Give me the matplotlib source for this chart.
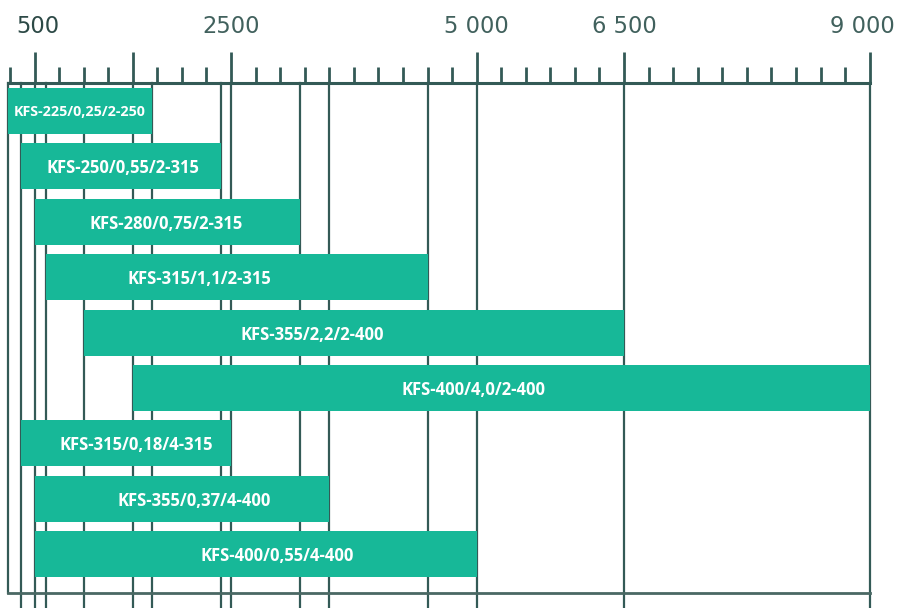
import matplotlib
matplotlib.use('Agg')
import matplotlib.pyplot as plt
import matplotlib.transforms as mtransforms
from matplotlib.ticker import FixedLocator

# ---- data ----
models = ["KFS-225/0,25/2-250", "KFS-250/0,55/2-315", "KFS-280/0,75/2-315",
          "KFS-315/1,1/2-315", "KFS-355/2,2/2-400", "KFS-400/4,0/2-400",
          "KFS-315/0,18/4-315", "KFS-355/0,37/4-400", "KFS-400/0,55/4-400"]
flow_min = [225, 360, 500, 620, 1000, 1500, 360, 500, 500]
flow_max = [1700, 2400, 3200, 4500, 6500, 9000, 2500, 3500, 5000]
label_x = [962, 1400, 1840, 2180, 3330, 4970, 1540, 2120, 2965]
major_ticks = [500, 1500, 2500, 5000, 6500, 9000]
major_labels = ["500", "", "2500", "5 000", "6 500", "9 000"]
minor_ticks = list(range(250, 9001, 250))

LINE = "#335a56"
BAR = "#17b898"
TXT = "#41615d"

W, H = 899, 608
fig = plt.figure(figsize=(W / 100, H / 100), dpi=100)
ax = fig.add_axes([7.5 / W, 0, (869.7 - 7.5) / W, 1 - 83 / H])
x0, x1 = 225, 9000
ax.set_xlim(x0, x1)
y_top, y_bot, y_frame = -0.505, 8.971, 8.70
ax.set_ylim(y_bot, y_top)

n = len(models)
ypos = list(range(n))
widths = [b - a for a, b in zip(flow_min, flow_max)]
ax.barh(ypos, widths, left=flow_min, height=0.83, color=BAR, zorder=3)

# vertical guide lines at the bar limits
for v in sorted(set(flow_min + flow_max)):
    if v > x0:
        ax.axvline(v, color=LINE, lw=1.6, zorder=1, clip_on=False)

# frame: left border and bottom line
ax.plot([x0, x0], [y_top, y_frame], color=LINE, lw=1.6, clip_on=False, zorder=2,
        solid_capstyle='projecting')
ax.plot([x0, x1], [y_frame, y_frame], color="#4a6864", lw=2.0, clip_on=False, zorder=2)

# labels inside bars
for i, (name, lx) in enumerate(zip(models, label_x)):
    fs = 10.3 if i == 0 else 12
    ax.text(lx, i, name, ha='center', va='center_baseline', color='white',
            fontsize=fs, fontweight='bold', family='Open Sans', zorder=4)

for s in ['left', 'right', 'bottom']:
    ax.spines[s].set_visible(False)
ax.spines['top'].set_color(LINE)
ax.spines['top'].set_linewidth(2.2)

ax.xaxis.set_ticks_position('top')
ax.xaxis.set_major_locator(FixedLocator(major_ticks))
ax.xaxis.set_minor_locator(FixedLocator(minor_ticks))
ax.set_xticklabels(major_labels)
ax.tick_params(axis='x', which='major', length=22.3, width=2, color=LINE,
               pad=9.9, labelsize=16.3, labelcolor=TXT, direction='out')
ax.tick_params(axis='x', which='minor', length=11.5, width=2, color=LINE,
               direction='out')
ax.set_yticks([])

labels = ax.get_xticklabels()
labels[0].set_color("#2c4946")
labels[0].set_transform(labels[0].get_transform() +
                        mtransforms.ScaledTranslation(3.5 / 100, 0, fig.dpi_scale_trans))
labels[-1].set_transform(labels[-1].get_transform() +
                         mtransforms.ScaledTranslation(-7.5 / 100, 0, fig.dpi_scale_trans))
ax.set_facecolor('white')
fig.patch.set_facecolor('white')

fig.savefig('out.png', dpi=100)
